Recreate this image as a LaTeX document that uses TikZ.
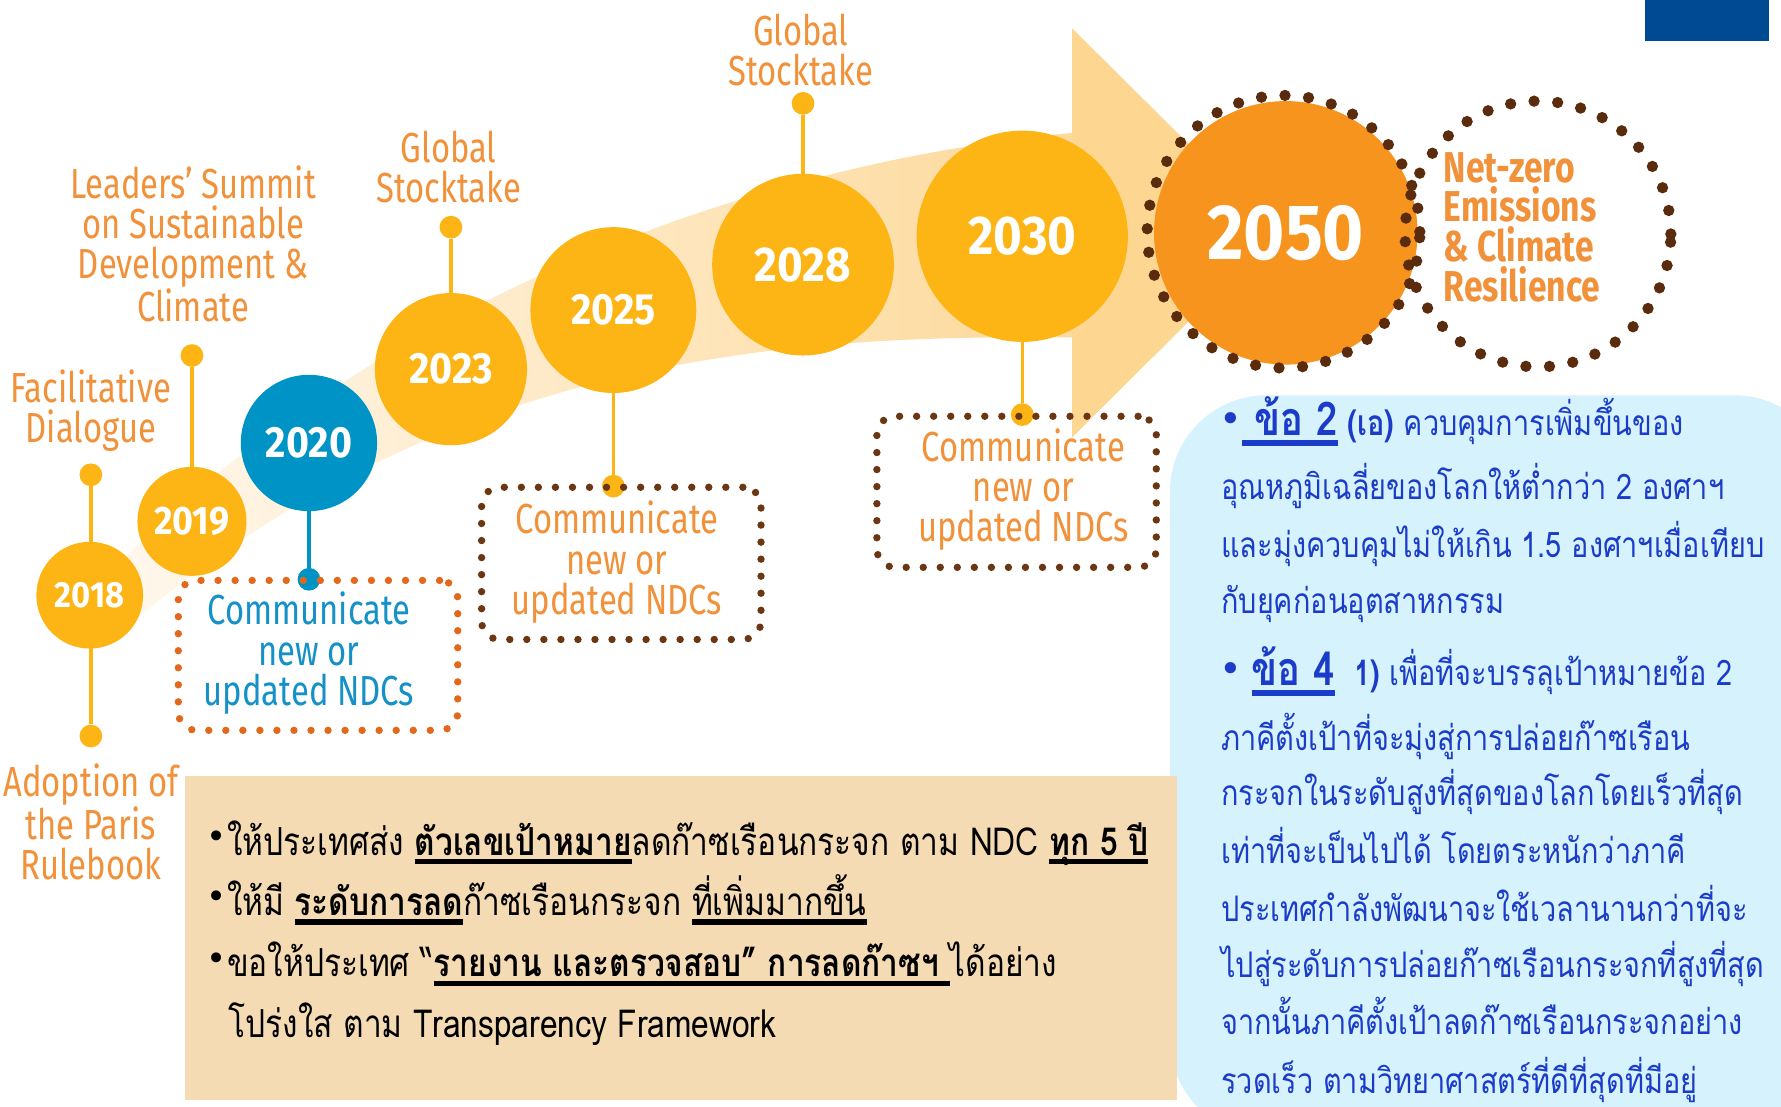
\documentclass[tikz,border=0pt]{standalone}
\usepackage{fontspec}
\setmainfont{Fira Sans}
\newfontfamily\labfont[FakeStretch=0.78]{Fira Sans}
\newfontfamily\yrfont[FakeStretch=0.9]{Fira Sans}
\newfontfamily\thaifont[Script=Thai,FakeStretch=0.82]{Loma}
\newfontfamily\thaicfont[Script=Thai,FakeStretch=0.82]{Loma}
\newfontfamily\bulfont{DejaVu Sans}
\definecolor{gold}{HTML}{FDB515}
\definecolor{bluec}{HTML}{0093C6}
\definecolor{orangec}{HTML}{F7941D}
\definecolor{labor}{HTML}{F1913A}
\definecolor{bluet}{HTML}{1591C8}
\definecolor{dotor}{HTML}{E2681C}
\definecolor{dotbr}{HTML}{6B3713}
\definecolor{ringbr}{HTML}{5A2C0D}
\definecolor{tanc}{HTML}{F5DBB3}
\definecolor{panelc}{HTML}{D6F2FC}
\definecolor{thblue}{HTML}{1B3CC8}
\definecolor{navyc}{HTML}{004A93}
\definecolor{bandL}{HTML}{FFF9F1}
\definecolor{bandM}{HTML}{FEEBCB}
\definecolor{bandR}{HTML}{FDD99A}
\definecolor{headc}{HTML}{FDD791}
\pgfdeclarelayer{back}
\pgfdeclarelayer{mid}
\pgfsetlayers{back,mid,main}
\newcommand\myul[3]{\setbox0\hbox{#3}\makebox[0pt][l]{\rule[-#2]{\wd0}{#1}}\box0{}}
\begin{document}
\begin{tikzpicture}[x=1pt,y=-1pt,
  yc/.style={circle, fill=gold, text=white, inner sep=0pt},
  pinn/.style={circle, fill=gold, minimum size=20pt, inner sep=0pt},
  stem/.style={draw=gold, line width=3pt},
  lbl/.style={font=\labfont\fontsize{37}{35.5}\selectfont, text=labor, align=center, inner sep=0pt},
  dotbox/.style={rounded corners=16pt, line width=6.5pt, line cap=round, dash pattern=on 0pt off 15pt, minimum width=246pt, minimum height=132pt},
  ring/.style={circle, draw=ringbr, line width=10pt, line cap=round, dash pattern=on 0pt off 20.8pt, inner sep=0pt},
  paneltxt/.style={font=\thaifont\fontsize{31}{31}\selectfont, text=thblue, inner sep=0pt, anchor=base west},
  tantxt/.style={font=\thaicfont\fontsize{34}{34}\selectfont, text=black, inner sep=0pt, anchor=base west},
]
\path[use as bounding box] (0,0) rectangle (1568,974);
\begin{pgfonlayer}{back}
\fill[white] (0,0) rectangle (1568,974);
\shade[left color=bandL, middle color=bandM, right color=bandR] (60,545) .. controls (260,310) and (600,150) .. (944,117) -- (944,297) .. controls (700,295) and (400,310) .. (120,545) -- cycle;
\fill[headc] (944,25) -- (1125,205) -- (944,385) -- cycle;
\fill[navyc] (1448,0) rectangle (1557,36);
\fill[panelc, rounded corners=85pt] (1030,348) rectangle (1612,1000);
\fill[tanc] (163,683) rectangle (1036,968);
\end{pgfonlayer}

% pins
\node[pinn] (p2018a) at (80,418) {};
\node[pinn] (p2018b) at (80,648) {};
\node[pinn] (p2019) at (169,313) {};
\node[pinn, fill=bluec] (p2020) at (272,510) {};
\node[pinn] (p2023) at (397,200) {};
\node[pinn] (p2025) at (540,428) {};
\node[pinn] (p2028) at (707,91) {};
\node[pinn] (p2030) at (900,365) {};

% year circles
\node[yc, minimum size=94pt, font=\yrfont\bfseries\fontsize{32}{32}\selectfont] (c2018) at (79,524) {2018};
\node[yc, minimum size=96pt, font=\yrfont\bfseries\fontsize{35}{35}\selectfont] (c2019) at (169,459) {2019};
\node[yc, fill=bluec, minimum size=120pt, font=\yrfont\bfseries\fontsize{38.5}{38.5}\selectfont] (c2020) at (272,390) {2020};
\node[yc, minimum size=134pt, font=\yrfont\bfseries\fontsize{38.5}{38.5}\selectfont] (c2023) at (397,325) {2023};
\node[yc, minimum size=146pt, font=\yrfont\bfseries\fontsize{38.5}{38.5}\selectfont] (c2025) at (540,273) {2025};
\node[yc, minimum size=160pt, font=\yrfont\bfseries\fontsize{43}{43}\selectfont] (c2028) at (707,233) {2028};
\node[yc, minimum size=186pt, font=\yrfont\bfseries\fontsize{48}{48}\selectfont] (c2030) at (900,208) {2030};
\node[yc, fill=orangec, minimum size=232pt, font=\yrfont\bfseries\fontsize{69}{69}\selectfont] (c2050) at (1132,205) {2050};

\begin{pgfonlayer}{mid}
\draw[stem] (p2018a) -- (p2018b);
\draw[stem] (p2019) -- (c2019);
\draw[stem, draw=bluec] (c2020) -- (p2020);
\draw[stem] (p2023) -- (c2023);
\draw[stem] (c2025) -- (p2025);
\draw[stem] (p2028) -- (c2028);
\draw[stem] (c2030) -- (p2030);
\end{pgfonlayer}

% rings
\node[ring, minimum size=240pt] (r2050) at (1130,204) {};
\node[ring, minimum size=234pt] (rnet) at (1354,206) {};
\node[anchor=west, align=left, inner sep=0pt, text=labor, font=\labfont\bfseries\fontsize{38}{35}\selectfont] (tnet) at (1271,200) {Net-zero\\Emissions\\\& Climate\\Resilience};

% labels
\node[lbl, anchor=south] (l2028) at (705,76) {Global\\Stocktake};
\node[lbl, anchor=south] (l2023) at (395,179) {Global\\Stocktake};
\node[lbl, anchor=south] (l2019) at (170,284) {Leaders’ Summit\\on Sustainable\\Development \&\\Climate};
\node[lbl, anchor=south] (l2018a) at (80,398) {Facilitative\\Dialogue};
\node[lbl, anchor=north] (l2018b) at (80,672) {Adoption of\\the Paris\\Rulebook};

% boxes
\node[dotbox, draw=dotor] (b2020) at (280,577) {};
\node[dotbox, draw=dotbr, minimum height=134pt] (b2025) at (547,496) {};
\node[dotbox, draw=dotbr, minimum height=133pt] (b2030) at (895,433) {};
\node[lbl, text=bluet] (t2020) at (272,575) {Communicate\\new or\\updated NDCs};
\node[lbl] (t2025) at (543,495) {Communicate\\new or\\updated NDCs};
\node[lbl] (t2030) at (901,431) {Communicate\\new or\\updated NDCs};

% tan box text
\node[tantxt] (w1) at (182,753) {\raisebox{6pt}{\bulfont\fontsize{30}{30}\selectfont •}ให้ประเทศส่ง \myul{4.5pt}{8pt}{\bfseries ตัวเลขเป้าหมาย}ลดก๊าซเรือนกระจก ตาม NDC \myul{4.5pt}{8pt}{\bfseries ทุก 5 ปี}};
\node[tantxt] (w2) at (182,806) {\raisebox{6pt}{\bulfont\fontsize{30}{30}\selectfont •}ให้มี \myul{4.5pt}{8pt}{\bfseries ระดับการลด}ก๊าซเรือนกระจก \myul{4.5pt}{8pt}{ที่เพิ่มมากขึ้น}};
\node[tantxt] (w3) at (182,860) {\raisebox{6pt}{\bulfont\fontsize{30}{30}\selectfont •}ขอให้ประเทศ “\myul{4.5pt}{8pt}{\bfseries รายงาน และตรวจสอบ” การลดก๊าซฯ }ได้อย่าง};
\node[tantxt] (w4) at (201,913) {โปร่งใส ตาม Transparency Framework};

% panel text
\node[paneltxt] (q1) at (1073,383.5) {\raisebox{3pt}{\bulfont\fontsize{34}{34}\selectfont •}\myul{5pt}{9pt}{\bfseries\fontsize{41}{41}\selectfont\ ข้อ 2} {\bfseries (เอ)} ควบคุมการเพิ่มขึ้นของ};
\node[paneltxt] (q2) at (1075,439.7) {อุณหภูมิเฉลี่ยของโลกให้ต่ำกว่า 2 องศาฯ};
\node[paneltxt] (q3) at (1075,490.7) {และมุ่งควบคุมไม่ให้เกิน 1.5 องศาฯเมื่อเทียบ};
\node[paneltxt] (q4) at (1075,540.4) {กับยุคก่อนอุตสาหกรรม};
\node[paneltxt] (q5) at (1073,603.6) {\raisebox{3pt}{\bulfont\fontsize{34}{34}\selectfont •}\ \myul{5pt}{9pt}{\bfseries\fontsize{41}{41}\selectfont ข้อ 4}\ \ {\bfseries 1)} เพื่อที่จะบรรลุเป้าหมายข้อ 2};
\node[paneltxt] (q6) at (1075,660.7) {ภาคีตั้งเป้าที่จะมุ่งสู่การปล่อยก๊าซเรือน};
\node[paneltxt] (q7) at (1075,709.5) {กระจกในระดับสูงที่สุดของโลกโดยเร็วที่สุด};
\node[paneltxt] (q8) at (1075,760.5) {เท่าที่จะเป็นไปได้ โดยตระหนักว่าภาคี};
\node[paneltxt] (q9) at (1075,811.5) {ประเทศกำลังพัฒนาจะใช้เวลานานกว่าที่จะ};
\node[paneltxt] (q10) at (1075,860.4) {ไปสู่ระดับการปล่อยก๊าซเรือนกระจกที่สูงที่สุด};
\node[paneltxt] (q11) at (1075,911.2) {จากนั้นภาคีตั้งเป้าลดก๊าซเรือนกระจกอย่าง};
\node[paneltxt] (q12) at (1075,962.3) {รวดเร็ว ตามวิทยาศาสตร์ที่ดีที่สุดที่มีอยู่};
\end{tikzpicture}
\end{document}
